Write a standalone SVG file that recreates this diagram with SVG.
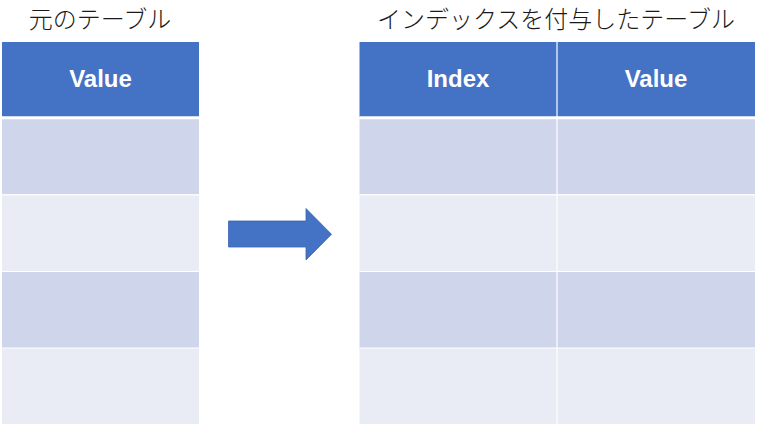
<svg xmlns="http://www.w3.org/2000/svg" width="758" height="426" viewBox="0 0 758 426">
<style>
.title{font-family:"Noto Sans CJK JP","Liberation Sans",sans-serif;font-size:24px;font-weight:300;fill:#1a1a1a;text-anchor:middle}
.hd{fill:#4472C4}
.dk{fill:#CFD5EA}
.lt{fill:#E9EBF5}
.ht{font-family:"Liberation Sans",Arial,sans-serif;font-weight:bold;font-size:24px;fill:#ffffff;text-anchor:middle}
.sep{stroke:#ffffff;stroke-width:1.2;fill:none}
.sepw{stroke:#ffffff;stroke-width:3;fill:none}
</style>
<rect width="758" height="426" fill="#ffffff"/>
<g id="left-table">
<text class="title" x="100" y="28">元のテーブル</text>
<rect class="hd" x="2" y="42" width="197" height="75"/>
<rect class="dk" x="2" y="117" width="197" height="77.5"/>
<rect class="lt" x="2" y="194.5" width="197" height="77"/>
<rect class="dk" x="2" y="271.5" width="197" height="76.5"/>
<rect class="lt" x="2" y="348" width="197" height="76"/>
<line class="sepw" x1="2" y1="117.8" x2="199" y2="117.8"/>
<line class="sep" x1="2" y1="194.8" x2="199" y2="194.8"/>
<line class="sep" x1="2" y1="271.5" x2="199" y2="271.5"/>
<line class="sep" x1="2" y1="348" x2="199" y2="348"/>
<text class="ht" x="100.5" y="87">Value</text>
</g>
<g id="right-table">
<text class="title" x="556" y="28">インデックスを付与したテーブル</text>
<rect class="hd" x="359.5" y="42" width="395.5" height="75"/>
<rect class="dk" x="359.5" y="117" width="395.5" height="77.5"/>
<rect class="lt" x="359.5" y="194.5" width="395.5" height="77"/>
<rect class="dk" x="359.5" y="271.5" width="395.5" height="76.5"/>
<rect class="lt" x="359.5" y="348" width="395.5" height="76"/>
<line class="sepw" x1="359.5" y1="117.8" x2="755" y2="117.8"/>
<line class="sep" x1="359.5" y1="194.8" x2="755" y2="194.8"/>
<line class="sep" x1="359.5" y1="271.5" x2="755" y2="271.5"/>
<line class="sep" x1="359.5" y1="348" x2="755" y2="348"/>
<line class="sep" x1="557" y1="42" x2="557" y2="424"/>
<text class="ht" x="458" y="87">Index</text>
<text class="ht" x="656" y="87">Value</text>
</g>
<g id="connectors">
<path d="M228.5,221 L306,221 L306,208.5 L331.5,234.3 L306,260 L306,247 L228.5,247 Z" fill="#4472C4" stroke="#3A64B0" stroke-width="0.8"/>
</g>
</svg>
